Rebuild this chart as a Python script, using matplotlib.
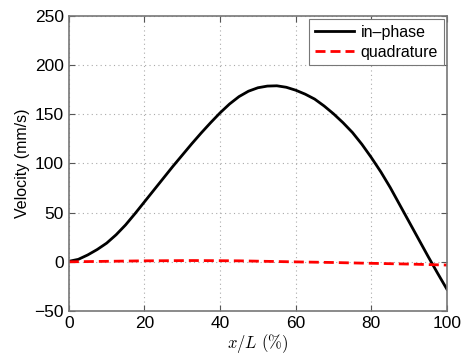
import matplotlib

matplotlib.use("Agg")
import matplotlib.pyplot as plt

# In-phase velocity (every 2.5 % of x/L)
x_in = [0, 2.5, 5, 7.5, 10, 12.5, 15, 17.5, 20, 22.5, 25, 27.5, 30, 32.5,
        35, 37.5, 40, 42.5, 45, 47.5, 50, 52.5, 55, 57.5, 60, 62.5, 65,
        67.5, 70, 72.5, 75, 77.5, 80, 82.5, 85, 87.5, 90, 92.5, 95, 97.5,
        100]
v_in = [0.5, 2.5, 7, 12.5, 19, 27.5, 37.5, 49, 61, 73, 85, 97, 108.5, 120,
        131, 141.5, 151.5, 160.5, 168, 173.5, 177, 178.7, 179, 177.5, 174.5,
        170.5, 165.5, 158.5, 150.5, 141.5, 131.5, 119.5, 106, 91.5, 75.5,
        58, 40.5, 23, 5.5, -11.5, -28]

# Quadrature velocity
x_quad = [0, 10, 20, 33, 45, 59, 70, 77, 90, 100]
v_quad = [0, 0.5, 1.0, 1.3, 1.0, 0.0, -0.7, -1.3, -2.3, -3.3]

xticks = [0, 20, 40, 60, 80, 100]
yticks = [-50, 0, 50, 100, 150, 200, 250]

plt.rcParams["font.family"] = ["Liberation Sans", "DejaVu Sans"]
plt.rcParams["mathtext.fontset"] = "cm"

fig = plt.figure(figsize=(4.62, 3.55), dpi=100)
ax = fig.add_axes([0.149, 0.124, 0.8185, 0.831])

ax.plot(x_in, v_in, color="black", linewidth=2, label="in\u2013phase")
ax.plot(x_quad, v_quad, color="red", linewidth=2, linestyle=(0, (3.6, 1.8)),
        label="quadrature")

ax.set_xlim(0, 100)
ax.set_ylim(-50, 250)
ax.set_xticks(xticks)
ax.set_yticks(yticks)
ax.set_yticklabels(["\u221250" if t < 0 else str(t) for t in yticks])
ax.tick_params(direction="in", labelsize=12.5, length=4, top=True, right=True,
               color="#555555")
for spine in ax.spines.values():
    spine.set_color("#777777")
    spine.set_linewidth(1.2)

ax.grid(True, linestyle=(0, (1, 3)), color="#aaaaaa", linewidth=0.8)

ax.set_ylabel("Velocity (mm/s)", fontsize=11.5, labelpad=3)
ax.set_xlabel(r"$x/L\ \mathrm{(\%)}$", fontsize=12, labelpad=1)

leg = ax.legend(loc="upper right", fontsize=11.5, fancybox=False,
                edgecolor="#777777", framealpha=1, handlelength=2.5,
                borderaxespad=0.2, handletextpad=0.4, borderpad=0.35,
                labelspacing=0.3)
leg.get_frame().set_linewidth(0.8)

fig.savefig("out.png", dpi=100)
